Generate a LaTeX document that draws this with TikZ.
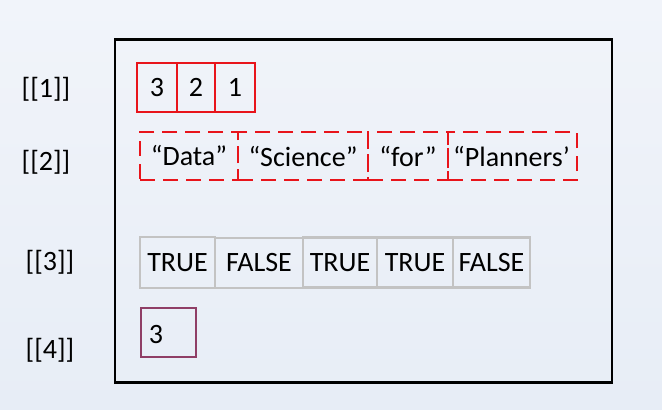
\documentclass[tikz,border=0pt]{standalone}
\usepackage{fontspec}
\setmainfont{Carlito}
\definecolor{bgtop}{HTML}{F1F4FA}
\definecolor{bgbot}{HTML}{E7EDF6}
\definecolor{boxred}{HTML}{E8141B}
\definecolor{boxgrey}{HTML}{C3C3C3}
\definecolor{boxplum}{HTML}{8F3E66}
\tikzset{
  cell/.style={inner sep=0pt, outer sep=0pt, font=\fontsize{28}{32}\selectfont, text=black},
  redcell/.style={cell, draw=boxred, line width=2.5pt},
  dashcell/.style={cell, draw=boxred, line width=2.8pt, dash pattern=on 15pt off 8pt},
  greycell/.style={cell, draw=boxgrey, line width=2.5pt},
  plumcell/.style={cell, draw=boxplum, line width=2.5pt},
  lbl/.style={font=\fontsize{28}{32}\selectfont, text=black, inner sep=0pt},
}
\begin{document}
\begin{tikzpicture}[x=1pt,y=-1pt]
\shade[top color=bgtop, bottom color=bgbot] (0,0) rectangle (662,410);
\useasboundingbox (0,0) rectangle (662,410);
% main frame
\node[draw=black, line width=2.8pt, minimum width=497pt, minimum height=343pt, inner sep=0pt] (frame) at (363.5,211) {};
% labels
\node[lbl] (l1) at (46,89) {[[1]]};
\node[lbl] (l2) at (46,162) {[[2]]};
\node[lbl] (l3) at (50,262) {[[3]]};
\node[lbl] (l4) at (50,350) {[[4]]};
% row 1
\node[redcell, minimum width=40pt, minimum height=49pt] (a1) at (157,87.5) {3};
\node[redcell, minimum width=38pt, minimum height=49pt] (a2) at (196,87.5) {2};
\node[redcell, minimum width=40pt, minimum height=49pt] (a3) at (235,87.5) {1};
% row 2
\node[dashcell, minimum width=98pt, minimum height=48pt] (b1) at (189,156) {“Data”};
\node[dashcell, minimum width=130pt, minimum height=48pt] (b2) at (303,156) {“Science”};
\node[dashcell, minimum width=80pt, minimum height=48pt] (b3) at (408,156) {“for”};
\node[dashcell, minimum width=129pt, minimum height=48pt] (b4) at (512.5,156) {};
\node[lbl, anchor=west] (b4t) at (453,157) {“Planners’};
% row 3
\node[greycell, minimum width=75pt, minimum height=51pt] (c1) at (177.5,262.5) {TRUE};
\node[greycell, minimum width=88pt, minimum height=50pt] (c2) at (259,263) {FALSE};
\node[greycell, minimum width=74pt, minimum height=50pt] (c3) at (340,262.5) {TRUE};
\node[greycell, minimum width=76pt, minimum height=50pt] (c4) at (415,262.5) {TRUE};
\node[greycell, minimum width=77pt, minimum height=50pt] (c5) at (491.5,262.5) {FALSE};
% row 4
\node[plumcell, minimum width=55pt, minimum height=49pt] (d1) at (168.5,332.5) {};
\node[lbl, anchor=base] (d1t) at (156,343) {3};
\end{tikzpicture}
\end{document}
